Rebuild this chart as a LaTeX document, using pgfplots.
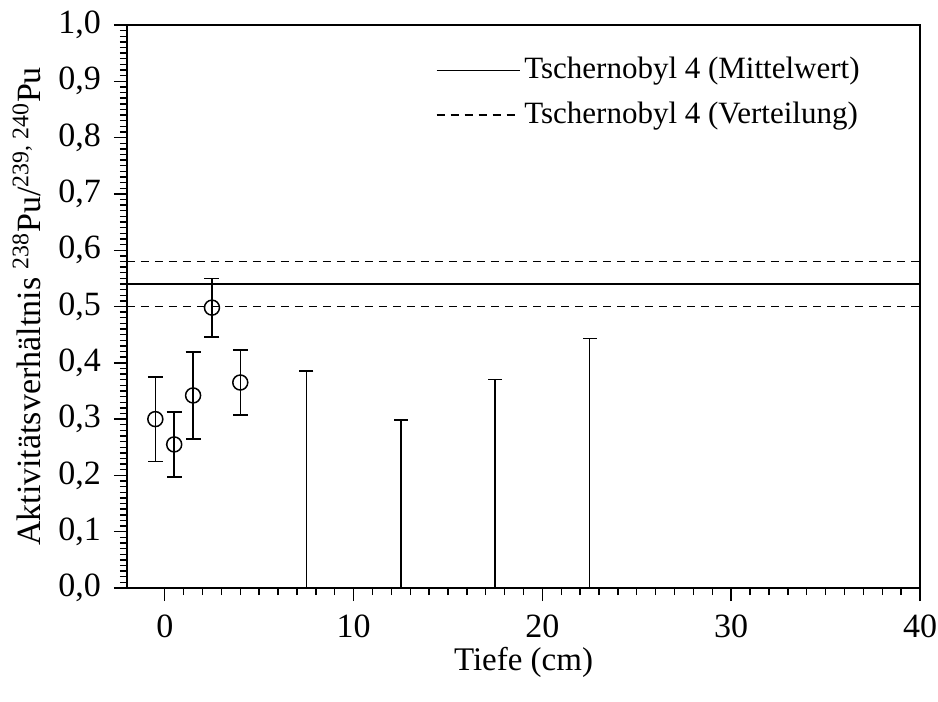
\documentclass[border=0pt]{standalone}
\usepackage{pgfplots}
\pgfplotsset{compat=1.18}
\usepackage{fontspec}
\setmainfont{Liberation Serif}
\begin{document}
\fontsize{16}{19}\selectfont
\begin{tikzpicture}
\begin{axis}[
  scale only axis,
  width=396.5pt, height=281.5pt,
  xmin=-2, xmax=40, ymin=0, ymax=1,
  xtick={0,10,20,30,40},
  ytick={0,0.1,...,1.0},
  minor x tick num=9,
  minor y tick num=9,
  tick align=outside,
  xtick pos=bottom, ytick pos=left,
  major tick length=6.5pt,
  minor tick length=3.5pt,
  axis line style={line width=0.8pt},
  tick style={line width=0.7pt, black},
  /pgf/number format/assume math mode=true,
  /pgf/number format/use comma,
  ticklabel style={font=\fontsize{17}{20}\selectfont},
  yticklabel style={xshift=-1pt, /pgf/number format/.cd, fixed, fixed zerofill, precision=1},
  xticklabel style={yshift=-1.5pt, /pgf/number format/.cd, fixed, precision=0},
  xlabel={Tiefe (cm)},
  ylabel={Aktivitätsverhältnis \textsuperscript{238}Pu/\textsuperscript{239, 240}Pu},
  xlabel style={font=\fontsize{16.5}{19}\selectfont, at={([yshift=-37pt]axis description cs:0.5,0)}, anchor=center},
  ylabel style={font=\fontsize{17}{20}\selectfont, at={([xshift=-43pt]axis description cs:0,0.5)}, anchor=base},
  legend style={draw=none, fill=none, at={([xshift=-28pt,yshift=-14pt]axis description cs:1,1)}, anchor=north east,
    font=\fontsize{15.5}{18}\selectfont, row sep=5pt, inner sep=0pt, cells={anchor=west}},
  legend image code/.code={\draw[#1] (0pt,0pt) -- (41.5pt,0pt);},
  clip=false,
]
\addplot[black, line width=0.75pt] coordinates {(-2,0.54) (40,0.54)};
\addlegendentry{Tschernobyl 4 (Mittelwert)}
\addplot[black, line width=0.75pt, dash pattern=on 4pt off 3pt] coordinates {(-2,0.58) (40,0.58)};
\addlegendentry{Tschernobyl 4 (Verteilung)}
\addplot[black, line width=0.75pt, dash pattern=on 4pt off 3pt, forget plot] coordinates {(-2,0.50) (40,0.50)};
% measured values with error bars
\addplot[forget plot, only marks, mark=o, mark size=3.75pt, mark options={fill=white, line width=0.75pt, black}, black,
  error bars/.cd, y dir=both, y explicit, error mark options={rotate=90, mark size=3.75pt, line width=0.75pt},
  error bar style={line width=0.75pt}]
coordinates {
(-0.5,0.300) +- (0,0.075)
(0.5,0.255) +- (0,0.058)
(1.5,0.342) +- (0,0.077)
(2.5,0.498) +- (0,0.052)
(4.0,0.365) +- (0,0.058)
};
% upper limits (detection limits)
\addplot[forget plot, only marks, mark=-, mark size=3.5pt, mark options={line width=0.75pt, black}, black,
  error bars/.cd, y dir=minus, y explicit, error mark=none, error bar style={line width=0.75pt}]
coordinates {
(7.5,0.385) -= (0,0.385)
(12.5,0.298) -= (0,0.298)
(17.5,0.370) -= (0,0.370)
(22.5,0.443) -= (0,0.443)
};
\end{axis}
\pgfresetboundingbox
\useasboundingbox ([shift={(-63.5pt,-57pt)}]current axis.south west) rectangle ([shift={(9pt,12.5pt)}]current axis.north east);
\end{tikzpicture}
\end{document}
